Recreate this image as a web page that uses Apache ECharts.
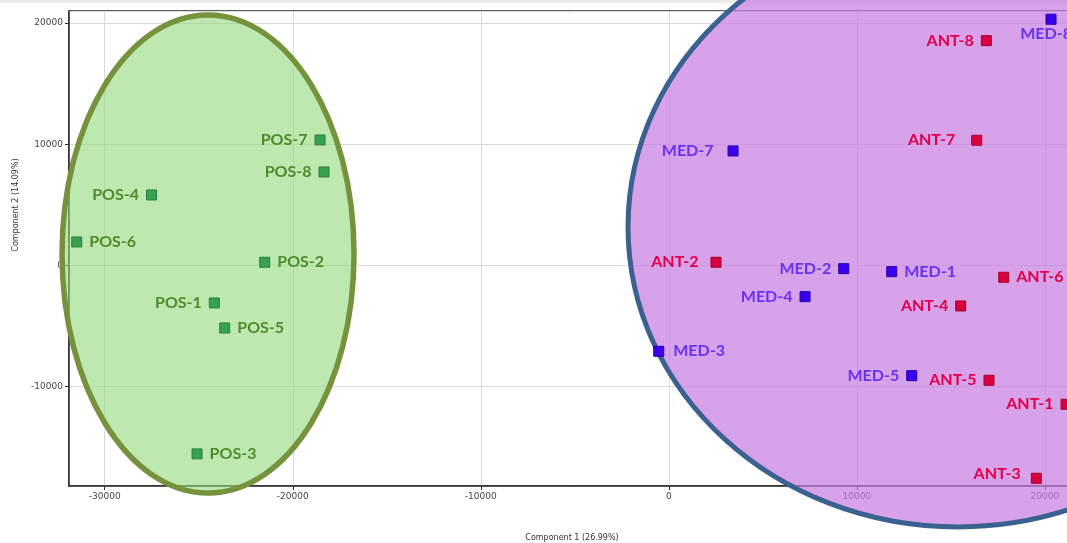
<!DOCTYPE html>
<html><head><meta charset="utf-8">
<script src="https://cdn.jsdelivr.net/npm/echarts@6/dist/echarts.min.js"></script>
<style>html,body{margin:0;padding:0;background:#fff}#c{width:1067px;height:543px}</style>
</head><body><div id="c"></div><script>
// ---- data ----
const posNames = ['POS-1','POS-2','POS-3','POS-4','POS-5','POS-6','POS-7','POS-8'];
const posX = [-24170, -21490, -25090, -27510, -23618, -31488, -18549, -18337];
const posY = [-3095, 264, -15549, 5818, -5158, 1939, 10357, 7716];

const antNames = ['ANT-1','ANT-2','ANT-3','ANT-4','ANT-5','ANT-6','ANT-7','ANT-8'];
const antX = [21123, 2510, 19544, 15523, 17028, 17810, 16374, 16885];
const antY = [-11455, 264, -17562, -3342, -9474, -974, 10333, 18553];

const medNames = ['MED-1','MED-2','MED-3','MED-4','MED-5','MED-7','MED-8'];
const medX = [11854, 9301, -537, 7243, 12917, 3414, 20326];
const medY = [-512, -264, -7081, -2575, -9095, 9450, 20319];

const xAxisName = 'Component 1 (26.99%)';
const yAxisName = 'Component 2 (14.09%)';

// group ellipses (annotation), in data units: centre x, centre y, radius x, radius y
const posEllipse = [-24505, 949, 7764, 19724];
const groupEllipse = [15380, 3177, 17550, 24758];

// ---- label placement (style) ----
const labelSide = {
  'POS-1':'left','POS-2':'right','POS-3':'right','POS-4':'left','POS-5':'right','POS-6':'right','POS-7':'left','POS-8':'left',
  'ANT-1':'left','ANT-2':'left','ANT-3':'left','ANT-4':'left','ANT-5':'left','ANT-6':'right','ANT-7':'left','ANT-8':'left',
  'MED-1':'right','MED-2':'left','MED-3':'right','MED-4':'left','MED-5':'left','MED-7':'left','MED-8':'bottom'
};
const labelDist = {'ANT-7':16,'MED-7':14,'ANT-2':12,'ANT-3':10,'MED-3':9,'MED-8':1};
const labelOffset = {'MED-8':[-5,0],'ANT-3':[0,-4]};

function build(names, xs, ys) {
  return names.map((n, i) => ({
    name: n,
    value: [xs[i], ys[i]],
    label: {
      position: labelSide[n],
      distance: labelDist[n] !== undefined ? labelDist[n] : 7,
      offset: labelOffset[n] || [0, 0]
    }
  }));
}

const chart = echarts.init(document.getElementById('c'), null, {renderer: 'canvas'});

function series(name, data, fill, border, labelColor) {
  return {
    name, type: 'scatter', data, z: 3,
    symbol: 'rect', symbolSize: 10,
    itemStyle: {color: fill, borderColor: border, borderWidth: 1, opacity: 1},
    label: {
      show: true, formatter: '{b}', color: labelColor,
      fontFamily: 'Lato', fontWeight: 'bold', fontSize: 16
    },
    emphasis: {disabled: true}
  };
}

const axisLabelStyle = {fontFamily: 'DejaVu Sans', fontSize: 9, color: '#444', formatter: v => String(v)};

chart.setOption({
  animation: false,
  backgroundColor: '#fff',
  grid: {
    left: 69, top: 11, width: 1006, height: 475,
    show: true, borderColor: '#2b2b2b', borderWidth: 1.5, backgroundColor: 'transparent',
    outerBoundsMode: 'none', containLabel: false
  },
  xAxis: {
    type: 'value', min: -31900, max: 21600, minInterval: 10000, maxInterval: 10000,
    name: xAxisName, nameLocation: 'middle', nameGap: 48,
    nameTextStyle: {fontFamily: 'DejaVu Sans', fontSize: 8, color: '#333'},
    axisLine: {show: true, onZero: false, lineStyle: {color: '#2b2b2b', width: 1.5}},
    axisTick: {show: true, length: 4, lineStyle: {color: '#2b2b2b'}},
    axisLabel: Object.assign({showMinLabel: false, showMaxLabel: false, margin: 6}, axisLabelStyle),
    splitLine: {show: true, lineStyle: {color: '#dadada', width: 1}}
  },
  yAxis: {
    type: 'value', min: -18200, max: 21000, minInterval: 10000, maxInterval: 10000,
    name: yAxisName, nameLocation: 'middle', nameGap: 49,
    nameTextStyle: {fontFamily: 'DejaVu Sans', fontSize: 8, color: '#333', padding: [0, 0, 0, 87]},
    axisLine: {show: true, onZero: false, lineStyle: {color: '#2b2b2b', width: 1.5}},
    axisTick: {show: true, length: 4, lineStyle: {color: '#2b2b2b'}},
    axisLabel: Object.assign({showMinLabel: false, showMaxLabel: false, margin: 6}, axisLabelStyle),
    splitLine: {show: true, lineStyle: {color: '#dadada', width: 1}}
  },
  series: [
    series('POS', build(posNames, posX, posY), '#36a24f', '#2c7d3c', '#4f8a2b'),
    series('ANT', build(antNames, antX, antY), '#d9003f', '#a3002f', '#e0004a'),
    series('MED', build(medNames, medX, medY), '#3a00ee', '#2400a8', '#6633ee')
  ]
});

function ellipseGraphic(e, fill, stroke, lw) {
  const c = chart.convertToPixel({gridIndex: 0}, [e[0], e[1]]);
  const px = chart.convertToPixel({gridIndex: 0}, [e[0] + e[2], e[1] + e[3]]);
  return {
    type: 'ellipse', z: 1, silent: true,
    shape: {cx: c[0], cy: c[1], rx: Math.abs(px[0] - c[0]), ry: Math.abs(px[1] - c[1])},
    style: {fill: fill, stroke: stroke, lineWidth: lw}
  };
}

chart.setOption({
  graphic: [
    {type: 'rect', z: 0, silent: true, shape: {x: 0, y: 0, width: 1067, height: 3}, style: {fill: '#ececec'}},
    ellipseGraphic(posEllipse, 'rgba(145,218,123,0.6)', '#76923c', 5.5),
    ellipseGraphic(groupEllipse, 'rgba(199,122,225,0.7)', '#3a6190', 5)
  ]
});
</script></body></html>
